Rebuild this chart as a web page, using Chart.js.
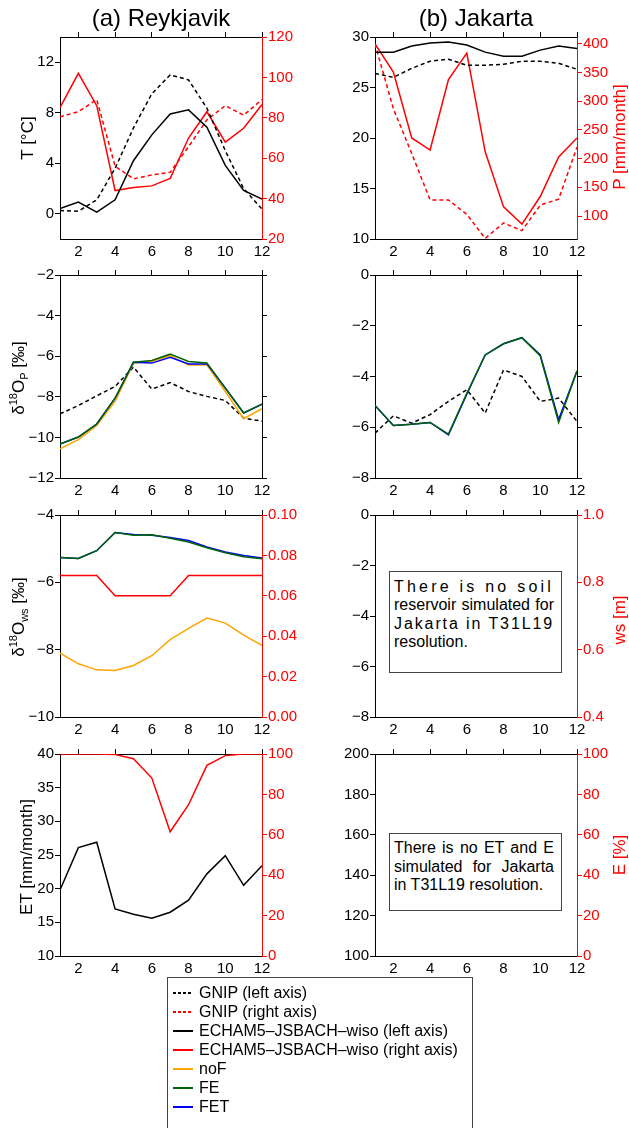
<!DOCTYPE html>
<html>
<head>
<meta charset="utf-8">
<script src="https://cdn.jsdelivr.net/npm/chart.js@4.4.1/dist/chart.umd.min.js"></script>
<style>
  body { margin: 0; background: #fff; font-family: "Liberation Sans", Arial, sans-serif; }
  #page { position: relative; width: 629px; height: 1128px; overflow: hidden; }
  canvas { position: absolute; }
  .t { position: absolute; white-space: nowrap; color: #000; }
  .title { font-size: 24px; transform: translate(-50%, -50%); }
  .rot { font-size: 17px; transform: translate(-50%, -50%) rotate(-90deg); }
  .red { color: #ff0000; }
  sup, sub { font-size: 11px; line-height: 0; }
  .box { position: absolute; border: 1px solid #444; background: #fff; font-size: 16px; box-sizing: border-box; padding: 0 7px 0 4px; }
  .box div { text-align: justify; text-align-last: justify; white-space: nowrap; }
  .box div.last { text-align-last: left; }
  #legend { position: absolute; left: 167px; top: 977px; width: 306px; height: 200px; border: 1px solid #444; box-sizing: border-box; }
  .entry { position: absolute; left: 0; height: 19px; font-size: 16px; }
  .entry span.s { position: absolute; left: 5px; top: 9px; width: 20px; height: 1.5px; }
  .entry span.l { position: absolute; left: 31px; top: 0; line-height: 19px; white-space: nowrap; }
</style>
</head>
<body>
<div id="page">
  <canvas id="a1" width="315" height="242" style="left:0;top:22px"></canvas>
  <canvas id="b1" width="314" height="242" style="left:315px;top:22px"></canvas>
  <canvas id="a2" width="315" height="243" style="left:0;top:260px"></canvas>
  <canvas id="b2" width="314" height="243" style="left:315px;top:260px"></canvas>
  <canvas id="a3" width="315" height="242" style="left:0;top:500px"></canvas>
  <canvas id="b3" width="314" height="242" style="left:315px;top:500px"></canvas>
  <canvas id="a4" width="315" height="242" style="left:0;top:739px"></canvas>
  <canvas id="b4" width="314" height="242" style="left:315px;top:739px"></canvas>

  <div class="t title" style="left:161px;top:18px">(a) Reykjavik</div>
  <div class="t title" style="left:476px;top:18px">(b) Jakarta</div>

  <div class="t rot" style="left:28px;top:138px">T [°C]</div>
  <div class="t rot" style="left:19px;top:378px">δ<sup>18</sup>O<sub>P</sub> [‰]</div>
  <div class="t rot" style="left:19px;top:617px">δ<sup>18</sup>O<sub>ws</sub> [‰]</div>
  <div class="t rot" style="left:27px;top:857px">ET [mm/month]</div>
  <div class="t rot red" style="left:620px;top:137px">P [mm/month]</div>
  <div class="t rot red" style="left:620px;top:620px">ws [m]</div>
  <div class="t rot red" style="left:620px;top:855px">E [%]</div>

  <div class="box" style="left:389px;top:571px;width:173px;height:102px;padding-top:6px;line-height:18.4px">
    <div style="letter-spacing:3.2px">There is no soil</div>
    <div>reservoir simulated for</div>
    <div style="letter-spacing:1.9px">Jakarta in T31L19</div>
    <div class="last">resolution.</div>
  </div>
  <div class="box" style="left:389px;top:833px;width:173px;height:78px;padding-top:5px;line-height:18.5px">
    <div>There is no ET and E</div>
    <div>simulated for Jakarta</div>
    <div class="last">in T31L19 resolution.</div>
  </div>

  <div id="legend"></div>
</div>

<script>
// months and tick values
const months = [1, 2, 3, 4, 5, 6, 7, 8, 9, 10, 11, 12];
const monthTicks = [2, 4, 6, 8, 10, 12];

// row 1: temperature and precipitation
const reyTempGnip = [0.26, 0.2, 1.1, 3.6, 6.8, 9.5, 11.0, 10.6, 8.36, 5.0, 2.0, 0.37];
const reyTempModel = [0.42, 0.92, 0.13, 1.1, 4.2, 6.25, 7.9, 8.23, 6.86, 3.83, 1.85, 1.16];
const reyPrecGnip = [80.5, 83, 89, 56, 49.8, 51.7, 53, 65.7, 79, 86, 81.3, 89];
const reyPrecModel = [85, 102, 86, 44, 45.5, 46.3, 50, 70, 83, 68, 74.8, 86.6];
const jakTempGnip = [26.4, 26.0, 26.9, 27.6, 27.8, 27.2, 27.2, 27.3, 27.6, 27.6, 27.4, 26.8];
const jakTempModel = [28.5, 28.5, 29.1, 29.4, 29.5, 29.2, 28.5, 28.1, 28.1, 28.7, 29.1, 28.85];
const jakPrecGnip = [400, 287, 209, 128, 128, 103, 61, 88, 74.5, 119, 129.5, 220];
const jakPrecModel = [400, 351, 236, 215, 338, 384, 212, 116, 86, 134, 203, 236];

// row 2: d18O in precipitation
const reyD18pGnip = [-8.84, -8.43, -7.95, -7.49, -6.54, -7.62, -7.3, -7.74, -7.98, -8.18, -9.05, -9.2];
const reyD18pNoF = [-10.56, -10.11, -9.41, -8.23, -6.34, -6.26, -5.97, -6.43, -6.43, -7.74, -9.08, -8.59];
const reyD18pFE = [-10.33, -9.98, -9.34, -8.07, -6.3, -6.21, -5.9, -6.26, -6.33, -7.57, -8.8, -8.36];
const reyD18pFET = [-10.33, -9.98, -9.34, -8.07, -6.3, -6.34, -6.05, -6.38, -6.38, -7.57, -8.8, -8.36];
const jakD18pGnip = [-6.23, -5.55, -5.84, -5.5, -4.98, -4.52, -5.44, -3.74, -4.0, -4.98, -4.85, -5.77];
const jakD18pFE = [-5.14, -5.93, -5.88, -5.81, -6.27, -4.66, -3.15, -2.71, -2.47, -3.19, -5.81, -3.78];
const jakD18pFET = [-5.14, -5.93, -5.88, -5.81, -6.3, -4.7, -3.15, -2.71, -2.47, -3.15, -5.7, -3.78];

// row 3: soil water
const reyD18wsNoF = [-8.1, -8.42, -8.6, -8.62, -8.47, -8.18, -7.7, -7.37, -7.06, -7.21, -7.57, -7.87];
const reyD18wsFE = [-5.26, -5.29, -5.06, -4.52, -4.6, -4.59, -4.69, -4.8, -4.97, -5.12, -5.24, -5.3];
const reyD18wsFET = [-5.26, -5.29, -5.06, -4.52, -4.58, -4.6, -4.67, -4.76, -4.95, -5.1, -5.2, -5.28];
const reyWs = [0.07, 0.07, 0.07, 0.06, 0.06, 0.06, 0.06, 0.07, 0.07, 0.07, 0.07, 0.07];

// row 4: evapotranspiration
const reyET = [19.8, 26.1, 26.9, 17.0, 16.2, 15.6, 16.5, 18.3, 22.2, 24.9, 20.5, 23.4];
const reyEFrac = [100, 100, 100, 99.7, 97.7, 88.1, 61.5, 74.9, 94.4, 99.2, 100, 100];

// axis ticks
const reyTempTicks = [0, 4, 8, 12];
const reyPrecTicks = [20, 40, 60, 80, 100, 120];
const jakTempTicks = [10, 15, 20, 25, 30];
const jakPrecTicks = [100, 150, 200, 250, 300, 350, 400];
const reyD18pTicks = [-12, -10, -8, -6, -4, -2];
const jakD18pTicks = [-8, -6, -4, -2, 0];
const reyD18wsTicks = [-10, -8, -6, -4];
const reyWsTicks = [0, 0.02, 0.04, 0.06, 0.08, 0.1];
const jakD18wsTicks = [-8, -6, -4, -2, 0];
const jakWsTicks = [0.4, 0.6, 0.8, 1.0];
const reyETTicks = [10, 15, 20, 25, 30, 35, 40];
const jakETTicks = [100, 120, 140, 160, 180, 200];
const eFracTicks = [0, 20, 40, 60, 80, 100];

const RED = "#ff0000", BLACK = "#000000", ORANGE = "#ffa500", GREEN = "#006400", BLUE = "#0000ff";

Chart.defaults.font.family = "'Liberation Sans', Arial, sans-serif";
Chart.defaults.font.size = 15;
Chart.defaults.color = BLACK;

const fmtInt = v => (v < 0 ? "\u2212" + Math.abs(v) : String(v));
const fmt1 = v => v.toFixed(1);
const fmt2 = v => v.toFixed(2);
const noLabel = () => "";

function line(values, color, dashed, axis) {
  return {
    data: months.map((m, i) => ({ x: m, y: values[i] })),
    borderColor: color,
    borderWidth: 1.5,
    borderDash: dashed ? [4, 3] : [],
    pointRadius: 0,
    tension: 0,
    fill: false,
    yAxisID: axis || "y",
  };
}

function yAxis(pos, min, max, ticks, color, fmt, width) {
  return {
    type: "linear",
    position: pos,
    min: min,
    max: max,
    afterBuildTicks: s => { s.ticks = ticks.map(v => ({ value: v })); },
    afterFit: s => { s.width = width; },
    border: { color: color, width: 1 },
    grid: { drawOnChartArea: false, drawTicks: true, tickLength: 5, color: color },
    ticks: { color: color, padding: 1, callback: fmt },
  };
}

function xAxis(pos) {
  const top = pos === "top";
  return {
    type: "linear",
    position: pos,
    min: 1,
    max: 12,
    afterBuildTicks: s => { s.ticks = monthTicks.map(v => ({ value: v })); },
    afterFit: s => { s.height = top ? 15 : 25; },
    border: { color: BLACK, width: 1 },
    grid: { drawOnChartArea: false, drawTicks: top, tickLength: 5, color: BLACK },
    ticks: { padding: 4, maxRotation: 0, autoSkip: false, callback: top ? noLabel : fmtInt },
  };
}

// first dataset in the list is drawn on top
function panel(id, datasets, left, right) {
  new Chart(document.getElementById(id), {
    type: "line",
    data: { datasets: datasets },
    options: {
      responsive: false,
      animation: false,
      layout: { padding: 0 },
      plugins: { legend: { display: false }, tooltip: { enabled: false } },
      scales: { x: xAxis("bottom"), x2: xAxis("top"), y: left, y1: right },
    },
  });
}

// (a) Reykjavik
panel("a1", [
  line(reyTempModel, BLACK, false),
  line(reyTempGnip, BLACK, true),
  line(reyPrecModel, RED, false, "y1"),
  line(reyPrecGnip, RED, true, "y1"),
], yAxis("left", -2, 14, reyTempTicks, BLACK, fmtInt, 60),
   yAxis("right", 20, 120, reyPrecTicks, RED, fmtInt, 53));

panel("a2", [
  line(reyD18pFE, GREEN, false),
  line(reyD18pFET, BLUE, false),
  line(reyD18pNoF, ORANGE, false),
  line(reyD18pGnip, BLACK, true),
], yAxis("left", -12, -2, reyD18pTicks, BLACK, fmtInt, 60),
   yAxis("right", -12, -2, reyD18pTicks, BLACK, noLabel, 53));

panel("a3", [
  line(reyWs, RED, false, "y1"),
  line(reyD18wsFE, GREEN, false),
  line(reyD18wsFET, BLUE, false),
  line(reyD18wsNoF, ORANGE, false),
], yAxis("left", -10, -4, reyD18wsTicks, BLACK, fmtInt, 60),
   yAxis("right", 0, 0.1, reyWsTicks, RED, fmt2, 53));

panel("a4", [
  line(reyEFrac, RED, false, "y1"),
  line(reyET, BLACK, false),
], yAxis("left", 10, 40, reyETTicks, BLACK, fmtInt, 60),
   yAxis("right", 0, 100, eFracTicks, RED, fmtInt, 53));

// (b) Jakarta
panel("b1", [
  line(jakTempModel, BLACK, false),
  line(jakTempGnip, BLACK, true),
  line(jakPrecModel, RED, false, "y1"),
  line(jakPrecGnip, RED, true, "y1"),
], yAxis("left", 10, 30, jakTempTicks, BLACK, fmtInt, 60),
   yAxis("right", 60, 412, jakPrecTicks, RED, fmtInt, 52));

panel("b2", [
  line(jakD18pFE, GREEN, false),
  line(jakD18pFET, BLUE, false),
  line(jakD18pGnip, BLACK, true),
], yAxis("left", -8, 0, jakD18pTicks, BLACK, fmtInt, 60),
   yAxis("right", -8, 0, jakD18pTicks, BLACK, noLabel, 52));

panel("b3", [],
  yAxis("left", -8, 0, jakD18wsTicks, BLACK, fmtInt, 60),
  yAxis("right", 0.4, 1.0, jakWsTicks, RED, fmt1, 52));

panel("b4", [],
  yAxis("left", 100, 200, jakETTicks, BLACK, fmtInt, 60),
  yAxis("right", 0, 100, eFracTicks, RED, fmtInt, 52));

// legend
const legendNames = ["GNIP (left axis)", "GNIP (right axis)", "ECHAM5\u2013JSBACH\u2013wiso (left axis)",
  "ECHAM5\u2013JSBACH\u2013wiso (right axis)", "noF", "FE", "FET"];
const legendColors = [BLACK, RED, BLACK, RED, ORANGE, GREEN, BLUE];
const legendDashed = [true, true, false, false, false, false, false];
const legend = document.getElementById("legend");
legendNames.forEach((name, i) => {
  const row = document.createElement("div");
  row.className = "entry";
  row.style.top = (5 + i * 19) + "px";
  const c = legendColors[i];
  const bg = legendDashed[i]
    ? "repeating-linear-gradient(to right," + c + " 0 3px, transparent 3px 5px)"
    : c;
  row.innerHTML = '<span class="s" style="background:' + bg + '"></span><span class="l">' + name + "</span>";
  legend.appendChild(row);
});
</script>
</body>
</html>
